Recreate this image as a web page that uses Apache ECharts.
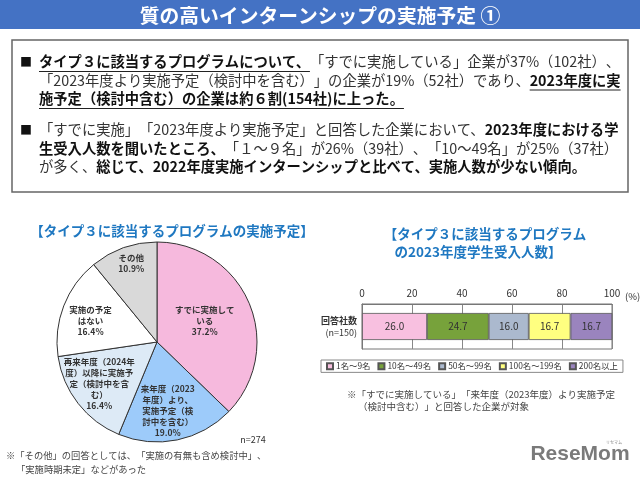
<!DOCTYPE html>
<html><head><meta charset="utf-8">
<script src="https://cdn.jsdelivr.net/npm/echarts@6/dist/echarts.min.js"></script>
<style>html,body{margin:0;padding:0;background:#fff}#c{width:640px;height:479px}</style>
</head><body><div id="c"></div>
<script>
// ---- data ----
const pieCategories = ['すでに実施している', '来年度（2023年度）より、実施予定（検討中を含む）', '再来年度（2024年度）以降に実施予定（検討中を含む）', '実施の予定はない', 'その他'];
const pieLabelLines = [['すでに実施して', 'いる'], ['来年度（2023', '年度）より、', '実施予定（検', '討中を含む）'], ['再来年度（2024年', '度）以降に実施予', '定（検討中を含', 'む）'], ['実施の予定', 'はない'], ['その他']];
const pieValues = [37.2, 19.0, 16.4, 16.4, 10.9];
const pieN = 'n=274';
const barCategory = ['回答社数'];
const barN = '(n=150)';
const barSeriesNames = ['1名～9名', '10名～49名', '50名～99名', '100名～199名', '200名以上'];
const barValues = [26.0, 24.7, 16.0, 16.7, 16.7];
const xTickMin = 0, xTickMax = 100, xTickStep = 20;

// ---- styles ----
const FONT = '"Noto Sans CJK JP", "Noto Sans", sans-serif';
const pieColors = ['#F6B9DD', '#9DCBFA', '#DDEAF6', '#FFFFFF', '#D9D9D9'];
const barColors = ['#F8C0E0', '#77A23B', '#ABB9CE', '#FFFF80', '#9A84BE'];
const pieLabelOffsets = [[-1, -1], [0, 17], [-16, 9], [-17, -2], [-8, -29]];
const BLUE = '#1F78C1';

const FS = 14.3;
const ctx = document.createElement('canvas').getContext('2d');
const PUNCT = '「」（）、。()【】';
// split text so that adjacent punctuation marks are shaped separately (keeps full-width spacing)
function tokens(s) {
  const out = []; let cur = '';
  for (let i = 0; i < s.length; i++) {
    const ch = s[i];
    if (cur && PUNCT.indexOf(ch) >= 0 && PUNCT.indexOf(cur[cur.length - 1]) >= 0) { out.push(cur); cur = ''; }
    cur += ch;
  }
  if (cur) out.push(cur);
  return out;
}
function tw(t, font) { ctx.font = font; return tokens(t).reduce(function (a, k) { return a + ctx.measureText(k).width; }, 0); }
function richOf(s, key) { return tokens(s).map(function (k) { return '{' + key + '|' + k + '}'; }).join(''); }
function txt(x, y, s, font, fill, align) {
  return { type: 'text', x: x, y: y, style: { text: richOf(s, 'a'), align: align || 'left', verticalAlign: 'middle', rich: { a: { font: font, fill: fill } } } };
}

const FN = FS + 'px ' + FONT, FB = 'bold ' + FS + 'px ' + FONT;
const textLines = [
  { y: 62, bullet: true, segs: [{ t: 'タイプ３に該当するプログラムについて、', b: 1, u: 1 }, { t: '「すでに実施している」企業が37%（102社）、' }] },
  { y: 80.5, segs: [{ t: '「2023年度より実施予定（検討中を含む）」の企業が19%（52社）であり、' }, { t: '2023年度に実', b: 1, u: 1 }] },
  { y: 99, segs: [{ t: '施予定（検討中含む）の企業は約６割(154社)に上った。', b: 1, u: 1 }] },
  { y: 130, bullet: true, segs: [{ t: '「すでに実施」「2023年度より実施予定」と回答した企業において、' }, { t: '2023年度における学', b: 1 }] },
  { y: 148.5, segs: [{ t: '生受入人数を聞いたところ、', b: 1 }, { t: '「１～９名」が26%（39社）、「10～49名」が25%（37社）' }] },
  { y: 167, segs: [{ t: 'が多く、' }, { t: '総じて、2022年度実施インターンシップと比べて、実施人数が少ない傾向。', b: 1 }] }
];

const graphics = [
  { type: 'rect', shape: { x: 0, y: 0, width: 640, height: 29 }, style: { fill: '#4472C4' } },
  { type: 'text', x: 320, y: 15, style: { text: '質の高いインターンシップの実施予定 ①', fill: '#fff', font: 'bold 19.8px ' + FONT, align: 'center', verticalAlign: 'middle' } },
  { type: 'rect', shape: { x: 12, y: 40, width: 616, height: 152 }, style: { fill: 'none', stroke: '#666', lineWidth: 1.5 } }
];
const X0 = 39;
textLines.forEach(function (ln) {
  if (ln.bullet) graphics.push({ type: 'text', x: 20, y: ln.y, style: { text: '■', fill: '#111', font: '12px ' + FONT, verticalAlign: 'middle' } });
  let x = X0;
  let rich = '';
  ln.segs.forEach(function (s) {
    const w = tw(s.t, s.b ? FB : FN);
    rich += richOf(s.t, s.b ? 'b' : 'n');
    if (s.u) graphics.push({ type: 'line', shape: { x1: x, y1: ln.y + 9.5, x2: x + w, y2: ln.y + 9.5 }, style: { stroke: '#222', lineWidth: 1.2 } });
    x += w;
  });
  graphics.push({ type: 'text', x: X0, y: ln.y, style: { text: rich, verticalAlign: 'middle', rich: {
    n: { font: FN, fill: '#333' },
    b: { font: FB, fill: '#111' } } } });
});
graphics.push(
  { type: 'text', x: 172, y: 231, style: { text: '【タイプ３に該当するプログラムの実施予定】', fill: BLUE, font: 'bold 13.5px ' + FONT, align: 'center', verticalAlign: 'middle' } },
  { type: 'text', x: 485, y: 234, style: { text: '【タイプ３に該当するプログラム', fill: BLUE, font: 'bold 13.5px ' + FONT, align: 'center', verticalAlign: 'middle' } },
  { type: 'text', x: 478, y: 252, style: { text: 'の2023年度学生受入人数】', fill: BLUE, font: 'bold 13.5px ' + FONT, align: 'center', verticalAlign: 'middle' } },
  { type: 'text', x: 253, y: 440, style: { text: pieN, fill: '#333', font: '9px ' + FONT, align: 'center', verticalAlign: 'middle' } },
  { type: 'text', x: 625, y: 296, style: { text: '(%)', fill: '#333', font: '9.5px ' + FONT, align: 'left', verticalAlign: 'middle' } },
  txt(6, 455, '※「その他」の回答としては、「実施の有無も含め検討中」、', '9.3px ' + FONT, '#444'),
  txt(16, 469, '「実施時期未定」などがあった', '9.3px ' + FONT, '#444'),
  txt(347, 394, '※「すでに実施している」「来年度（2023年度）より実施予定', '9.5px ' + FONT, '#444'),
  txt(358, 406, '（検討中含む）」と回答した企業が対象', '9.5px ' + FONT, '#444'),
  { type: 'text', x: 580, y: 454, style: { text: 'ReseMom', fill: '#7a7a7a', font: 'bold 21px "Liberation Sans", Arial, sans-serif', align: 'center', verticalAlign: 'middle' } },
  { type: 'text', x: 614, y: 442, style: { text: 'リセマム', fill: '#888', font: '4px ' + FONT, align: 'center', verticalAlign: 'middle' } }
);

const chart = echarts.init(document.getElementById('c'), null, { renderer: 'canvas' });
chart.setOption({
  animation: false,
  backgroundColor: '#fff',
  textStyle: { fontFamily: FONT },
  graphic: graphics,
  legend: {
    data: barSeriesNames, left: 321, top: 360, icon: 'rect', itemWidth: 6, itemHeight: 6, itemGap: 7,
    borderColor: '#888', borderWidth: 1, padding: [2, 5, 2, 5],
    textStyle: { fontSize: 8.4, color: '#333', padding: [0, 0, 0, -2] }
  },
  grid: { left: 362, top: 304, width: 250, height: 45, show: true, borderColor: '#777', borderWidth: 1, containLabel: false },
  xAxis: {
    type: 'value', position: 'top', min: xTickMin, max: xTickMax, interval: xTickStep,
    axisLine: { show: true, lineStyle: { color: '#777' } }, axisTick: { show: false },
    axisLabel: { color: '#333', fontSize: 10, margin: 6 },
    splitLine: { show: true, lineStyle: { color: '#888', width: 1 } }
  },
  yAxis: {
    type: 'category', data: barCategory,
    axisLine: { show: true, lineStyle: { color: '#777' } }, axisTick: { show: false },
    axisLabel: { margin: 5, formatter: function (v) { return '{a|' + v + '}\n{b|' + barN + '}'; },
      rich: { a: { fontSize: 9, fontWeight: 'bold', color: '#333', align: 'right', lineHeight: 12 }, b: { fontSize: 9, color: '#333', align: 'right', lineHeight: 12 } } }
  },
  series: barSeriesNames.map(function (name, i) {
    return {
      name: name, type: 'bar', stack: 'total', barWidth: 27,
      data: [barValues[i]],
      itemStyle: { color: barColors[i], borderColor: '#555', borderWidth: 0.8 },
      label: { show: true, position: 'inside', formatter: function (p) { return p.value.toFixed(1); }, fontSize: 10, color: '#333' }
    };
  }).concat([{
    type: 'pie', center: [157, 342], radius: [0, 100], startAngle: 90, clockwise: true,
    data: pieCategories.map(function (c, i) { return { name: c, value: pieValues[i], itemStyle: { color: pieColors[i] } }; }),
    itemStyle: { borderColor: '#333', borderWidth: 1 },
    label: {
      show: true, position: 'inside', color: '#333', fontSize: 8.5, fontWeight: 'bold', lineHeight: 11,
      formatter: function (p) { return pieLabelLines[p.dataIndex].join('\n') + '\n' + p.value.toFixed(1) + '%'; }
    },
    labelLine: { show: false },
    labelLayout: function (p) { const o = pieLabelOffsets[p.dataIndex]; return { dx: o[0], dy: o[1] }; },
    emphasis: { disabled: true }
  }])
});
</script></body></html>
